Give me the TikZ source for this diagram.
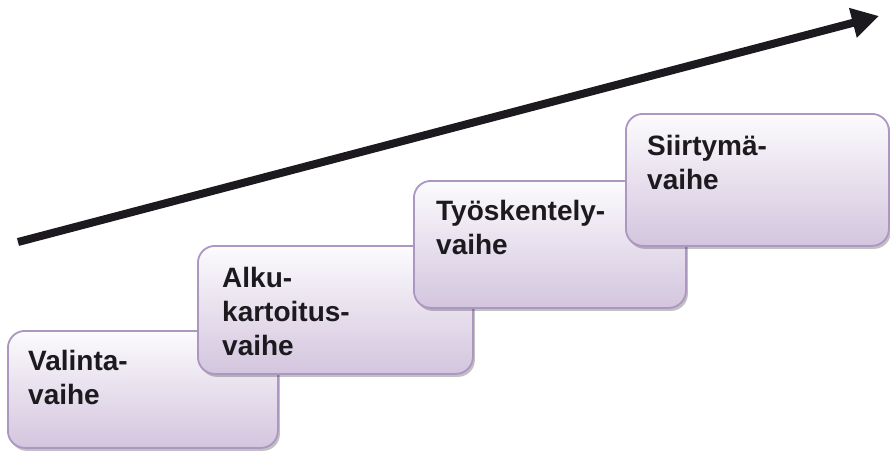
\documentclass[tikz,border=0pt]{standalone}
\usepackage{fontspec}
\setmainfont{Liberation Sans}
\usetikzlibrary{shadows,arrows.meta}
\definecolor{boxedge}{RGB}{172,150,194}
\definecolor{boxtop}{RGB}{252,251,253}
\definecolor{boxbot}{RGB}{211,197,222}
\definecolor{ink}{RGB}{28,26,30}
\tikzset{
  stagebox/.style={draw=boxedge, line width=1.8pt, rounded corners=17pt,
    top color=boxtop, bottom color=boxbot, anchor=north west, inner sep=0pt,
    drop shadow={shadow xshift=2pt, shadow yshift=-3pt, opacity=0.35, fill=black!70}},
  stagetext/.style={anchor=north west, inner sep=0pt, align=left, text=ink,
    font=\fontsize{28}{34}\selectfont\bfseries},
  trend/.style={draw=ink, line width=8pt, -{Triangle[length=27pt,width=29pt]}}
}
\begin{document}
\begin{tikzpicture}[x=1pt,y=-1pt]
\useasboundingbox (0,0) rectangle (890,450);
% stages, each one stepping up and overlapping the previous
\node[stagebox, minimum width=270pt, minimum height=117pt] (b1) at (7,330) {};
\node[stagetext] (t1) at (28,350) {Valinta-\\vaihe};
\node[stagebox, minimum width=275pt, minimum height=128pt] (b2) at (197,245) {};
\node[stagetext] (t2) at (222,267) {Alku-\\kartoitus-\\vaihe};
\node[stagebox, minimum width=272pt, minimum height=127pt] (b3) at (413,180) {};
\node[stagetext] (t3) at (436,200) {Työskentely-\\vaihe};
\node[stagebox, minimum width=263pt, minimum height=132pt] (b4) at (625,113) {};
\node[stagetext] (t4) at (647,135) {Siirtymä-\\vaihe};
% rising trend arrow
\coordinate (a0) at (18,242);
\coordinate (a1) at (879,16);
\draw[trend] (a0) -- (a1);
\end{tikzpicture}
\end{document}
